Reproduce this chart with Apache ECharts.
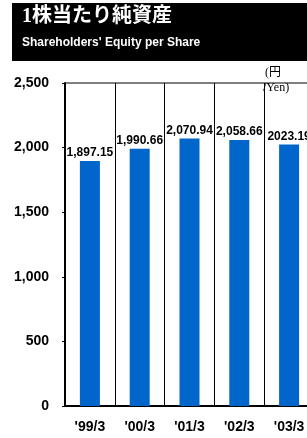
<!DOCTYPE html>
<html><head><meta charset="utf-8">
<script src="https://cdn.jsdelivr.net/npm/echarts@6/dist/echarts.min.js"></script>
<style>html,body{margin:0;padding:0;background:#fff;}#c{width:307px;height:438px;}</style>
</head><body><div id="c"></div>
<script>
var categories = ["'99/3", "'00/3", "'01/3", "'02/3", "'03/3"];
var values = [1897.15, 1990.66, 2070.94, 2058.66, 2023.19];
var valueLabels = ["1,897.15", "1,990.66", "2,070.94", "2,058.66", "2023.19"];
var yTicks = [0, 500, 1000, 1500, 2000, 2500];

var chart = echarts.init(document.getElementById('c'), null, {renderer: 'canvas'});
var sans = "'Liberation Sans', Arial, sans-serif";
chart.setOption({
  animation: false,
  graphic: [
    {type: 'rect', shape: {x: 12, y: 3, width: 295, height: 58}, style: {fill: '#000'}, z: 10},
    {type: 'text', left: 22, top: 7, style: {text: '1株当たり純資産', fill: '#fff', font: "bold 20px 'Liberation Serif', 'Noto Sans CJK JP', serif"}, z: 11},
    {type: 'text', left: 22, top: 37, style: {text: "Shareholders' Equity per Share", fill: '#fff', font: "bold 12px " + sans}, z: 11},
    {type: 'text', left: 265, top: 67, style: {text: '(円', fill: '#000', font: "12px 'Liberation Serif', 'Noto Sans CJK JP', serif"}, z: 11},
    {type: 'text', left: 263, top: 82, style: {text: '/Yen)', fill: '#000', font: "12px 'Liberation Serif', serif"}, z: 11}
  ],
  grid: {left: 65, top: 83, width: 249, height: 323, outerBoundsMode: 'none', containLabel: false,
    show: true, borderColor: '#000', borderWidth: 1, backgroundColor: 'transparent'},
  xAxis: {
    type: 'category', data: categories,
    axisLine: {lineStyle: {color: '#000', width: 2}},
    axisTick: {show: false},
    splitLine: {show: true, lineStyle: {color: '#000', width: 1}},
    axisLabel: {color: '#000', fontFamily: sans, fontWeight: 'bold', fontSize: 14, margin: 14}
  },
  yAxis: {
    type: 'value', min: yTicks[0], max: yTicks[yTicks.length - 1], interval: 500,
    axisLine: {show: true, lineStyle: {color: '#000', width: 2}},
    axisTick: {show: true, length: 3, lineStyle: {color: '#000'}},
    splitLine: {show: false},
    axisLabel: {color: '#000', fontFamily: sans, fontWeight: 'bold', fontSize: 14, margin: 16,
      formatter: function (v) { return v.toLocaleString('en-US'); }}
  },
  series: [{
    type: 'bar', data: values, barWidth: 20,
    itemStyle: {color: '#0066CC'},
    label: {show: true, position: 'top', distance: 2, color: '#000', fontFamily: sans, fontWeight: 'bold', fontSize: 12,
      formatter: function (p) { return valueLabels[p.dataIndex]; }}
  }]
});
</script></body></html>
